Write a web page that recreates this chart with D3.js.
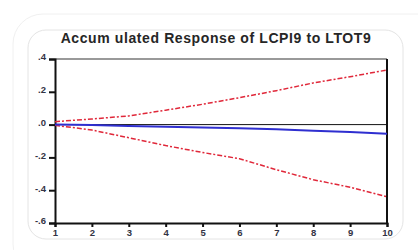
<!DOCTYPE html>
<html>
<head>
<meta charset="utf-8">
<script src="https://cdn.jsdelivr.net/npm/d3@7"></script>
<style>
    body { margin: 0; background: #fff; }
    svg { display: block; }
</style>
</head>
<body>
<div id="chart-area"></div>
<script>
// DATA
// =================
var periods = [1, 2, 3, 4, 5, 6, 7, 8, 9, 10];
var response = [0.000, -0.003, -0.009, -0.013, -0.017, -0.022, -0.029, -0.037, -0.045, -0.056];
var upperBand = [0.018, 0.034, 0.053, 0.088, 0.124, 0.164, 0.207, 0.254, 0.292, 0.333];
var lowerBand = [-0.004, -0.033, -0.080, -0.128, -0.170, -0.208, -0.275, -0.336, -0.382, -0.440];
var yTicks = [0.4, 0.2, 0.0, -0.2, -0.4, -0.6];
var yTickLabels = ['.4', '.2', '.0', '-.2', '-.4', '-.6'];
var xTickLabels = ['1', '2', '3', '4', '5', '6', '7', '8', '9', '10'];

// CANVAS + MARGINS
// =================
var margin, width, height, svg, g;

margin = { left: 55, right: 31, top: 59, bottom: 27 };
width = 418 - margin.left - margin.right;
height = 250 - margin.top - margin.bottom;

svg = d3.select('#chart-area')
    .append('svg')
        .attr('width', 418)
        .attr('height', 250);

// faint frames behind the chart
svg.append('rect')
    .attr('x', 13).attr('y', 14)
    .attr('width', 440).attr('height', 260)
    .attr('rx', 30)
    .attr('fill', 'none')
    .attr('stroke', '#f0f0f0')
    .attr('stroke-width', 1);

svg.append('rect')
    .attr('x', 28).attr('y', 30)
    .attr('width', 375).attr('height', 209)
    .attr('rx', 18)
    .attr('fill', '#fff')
    .attr('stroke', '#e4e4e4')
    .attr('stroke-width', 1);

g = svg.append('g')
    .attr('transform', 'translate(' + margin.left + ', ' + margin.top + ')');

// TITLE
svg.append('text')
    .attr('x', 216)
    .attr('y', 43)
    .attr('text-anchor', 'middle')
    .attr('font-family', 'Liberation Sans, Arial, sans-serif')
    .attr('font-size', '14px')
    .attr('font-weight', 'bold')
    .attr('letter-spacing', '0.6px')
    .attr('fill', '#262626')
    .text('Accum ulated Response of LCPI9 to LTOT9');

// SCALES
// =================
var x = d3.scaleLinear().domain([1, 10]).range([0, width]);
var y = d3.scaleLinear().domain([-0.6, 0.4]).range([height, 0]);

// top border (gray)
g.append('line')
    .attr('x1', 0).attr('x2', width)
    .attr('y1', 0).attr('y2', 0)
    .attr('stroke', '#777')
    .attr('stroke-width', 1.5);

// right border
g.append('line')
    .attr('x1', width).attr('x2', width)
    .attr('y1', 0).attr('y2', height)
    .attr('stroke', '#111')
    .attr('stroke-width', 2);

// zero line
g.append('line')
    .attr('x1', 0).attr('x2', width)
    .attr('y1', y(0)).attr('y2', y(0))
    .attr('stroke', '#111')
    .attr('stroke-width', 1);

// AXES
// =================
var xAxisCall = d3.axisBottom(x)
    .tickValues(periods)
    .tickSize(4)
    .tickPadding(2)
    .tickFormat((d, i) => xTickLabels[i]);

var xAxis = g.append('g')
    .attr('class', 'x axis')
    .attr('transform', 'translate(0,' + height + ')')
    .call(xAxisCall);

var yAxisCall = d3.axisLeft(y)
    .tickValues(yTicks)
    .tickSize(6)
    .tickPadding(3)
    .tickFormat((d, i) => yTickLabels[i]);

var yAxis = g.append('g')
    .attr('class', 'y axis')
    .call(yAxisCall);

[xAxis, yAxis].forEach(a => {
    a.select('.domain')
        .attr('stroke', '#111')
        .attr('stroke-width', 2);
    a.selectAll('.tick line')
        .attr('stroke', '#111')
        .attr('stroke-width', 2);
    a.selectAll('.tick text')
        .attr('font-family', 'Liberation Sans, Arial, sans-serif')
        .attr('font-size', '9.5px')
        .attr('font-weight', 'bold')
        .attr('fill', '#334');
});
yAxis.selectAll('.tick text').attr('dy', '0.1em');

// LINES
// =================
var line = d3.line()
    .x((d, i) => x(periods[i]))
    .y(d => y(d));

g.append('path')
    .datum(upperBand)
    .attr('d', line)
    .attr('fill', 'none')
    .attr('stroke', '#e0283a')
    .attr('stroke-width', 1.5)
    .attr('stroke-dasharray', '5,2,2,2');

g.append('path')
    .datum(lowerBand)
    .attr('d', line)
    .attr('fill', 'none')
    .attr('stroke', '#e0283a')
    .attr('stroke-width', 1.5)
    .attr('stroke-dasharray', '5,2,2,2');

g.append('path')
    .datum(response)
    .attr('d', line)
    .attr('fill', 'none')
    .attr('stroke', '#2f2fd0')
    .attr('stroke-width', 2);
</script>
</body>
</html>
